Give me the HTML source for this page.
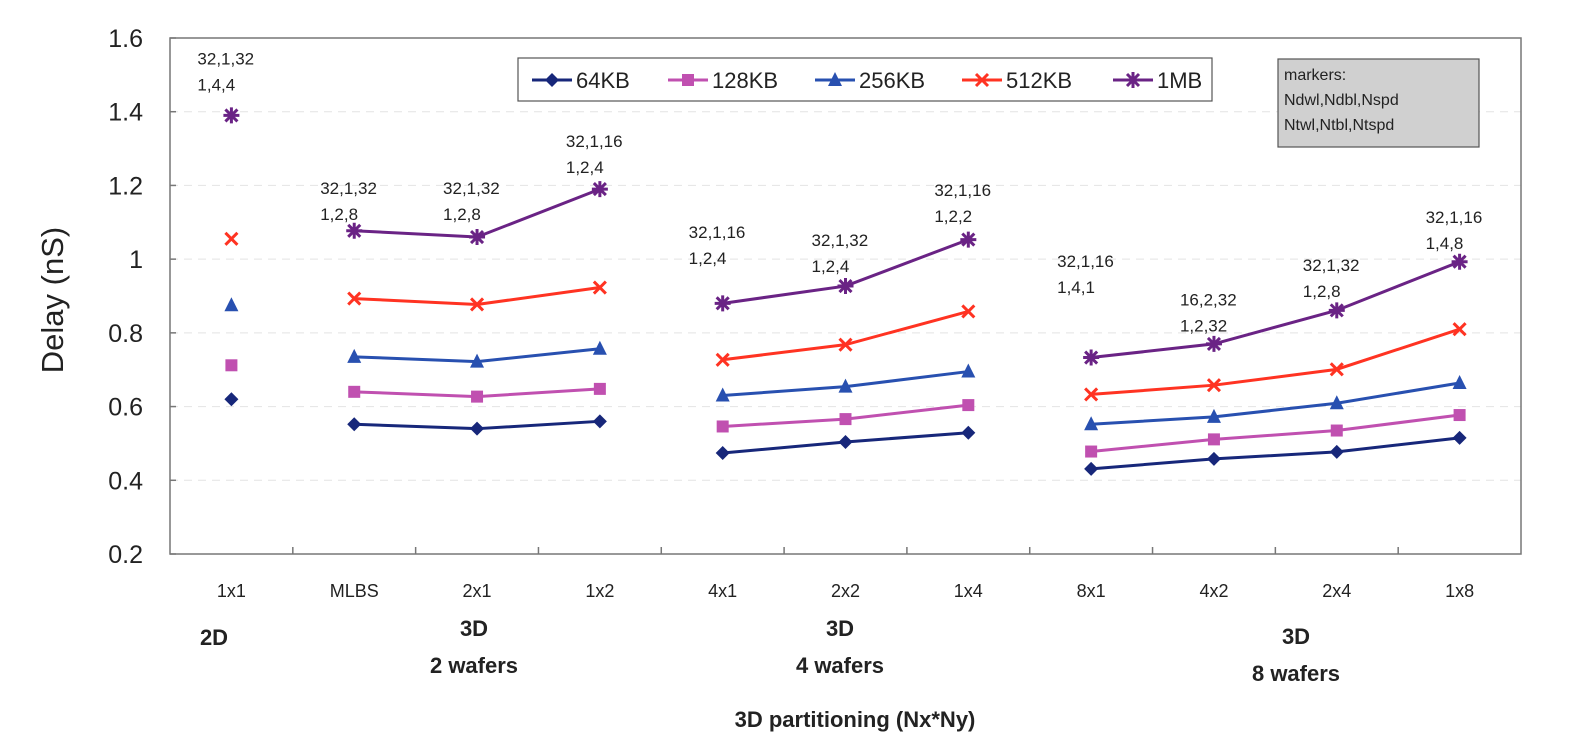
<!DOCTYPE html>
<html><head><meta charset="utf-8"><style>
html,body{margin:0;padding:0;background:#fff;}
svg{display:block;font-family:"Liberation Sans",Arial,sans-serif;}
</style></head><body>
<svg id="chart" width="1577" height="748"></svg>
<script>
const categories=["1x1","MLBS","2x1","1x2","4x1","2x2","1x4","8x1","4x2","2x4","1x8"];
const groups=[[0],[1,2,3],[4,5,6],[7,8,9,10]];
const s64=[0.62,0.552,0.54,0.56,0.474,0.504,0.529,0.431,0.458,0.477,0.515];
const s128=[0.712,0.64,0.627,0.648,0.546,0.566,0.604,0.478,0.511,0.535,0.577];
const s256=[0.875,0.735,0.722,0.757,0.63,0.654,0.695,0.552,0.572,0.609,0.664];
const s512=[1.055,0.893,0.877,0.923,0.727,0.768,0.858,0.633,0.658,0.701,0.81];
const s1mb=[1.39,1.077,1.06,1.19,0.88,0.927,1.053,0.733,0.77,0.861,0.993];
const yTicks=[0.2,0.4,0.6,0.8,1,1.2,1.4,1.6];
const annoLine1=["32,1,32","32,1,32","32,1,32","32,1,16","32,1,16","32,1,32","32,1,16","32,1,16","16,2,32","32,1,32","32,1,16"];
const annoLine2=["1,4,4","1,2,8","1,2,8","1,2,4","1,2,4","1,2,4","1,2,2","1,4,1","1,2,32","1,2,8","1,4,8"];
const annoLevel=[1.544,1.193,1.193,1.321,1.073,1.052,1.188,0.995,0.891,0.984,1.114];

const NS="http://www.w3.org/2000/svg";
const svg=document.getElementById('chart');
const L=170,R=1521,T=38,B=554,ymin=0.2,ymax=1.6;
const step=(R-L)/categories.length;
const X=i=>L+step*(i+0.5);
const Y=v=>B-(v-ymin)/(ymax-ymin)*(B-T);
function el(tag,attrs,parent){const e=document.createElementNS(NS,tag);for(const k in attrs)e.setAttribute(k,attrs[k]);(parent||svg).appendChild(e);return e;}
function txt(s,attrs,parent){const e=el('text',attrs,parent);e.textContent=s;return e;}

// gridlines
yTicks.forEach(v=>{
  if(v>ymin&&v<ymax){const g=el('line',{x1:L,x2:R,y1:Y(v),y2:Y(v),stroke:'#e4e4e4','stroke-dasharray':'8,6'});
  
  }
  const t=txt(String(v),{x:143,y:Y(v)+9,'text-anchor':'end','font-size':25,fill:'#222'});
  
  
  const tk=el('line',{x1:L,x2:L+6,y1:Y(v),y2:Y(v),stroke:'#777','stroke-width':1.5});
  
  
});
const frame=el('rect',{x:L,y:T,width:R-L,height:B-T,fill:'none',stroke:'#777','stroke-width':1.5});


for(let i=1;i<categories.length;i++){
  const tk=el('line',{x1:L+step*i,x2:L+step*i,y1:B,y2:B-7,stroke:'#777','stroke-width':1.5});
  
  
}
categories.forEach((c,i)=>{
  const t=txt(c,{x:X(i),y:597,'text-anchor':'middle','font-size':18,fill:'#222'});
  
  
});

const series=[
 {name:'64KB',data:s64,color:'#17277a',m:'diamond'},
 {name:'128KB',data:s128,color:'#c050b0',m:'square'},
 {name:'256KB',data:s256,color:'#2850b0',m:'triangle'},
 {name:'512KB',data:s512,color:'#ff3322',m:'x'},
 {name:'1MB',data:s1mb,color:'#6a2385',m:'star'}];
function marker(type,x,y,c,g){
  if(type==='diamond')return el('polygon',{points:`${x},${y-7} ${x+7},${y} ${x},${y+7} ${x-7},${y}`,fill:c},g);
  if(type==='square')return el('rect',{x:x-6,y:y-6,width:12,height:12,fill:c},g);
  if(type==='triangle')return el('polygon',{points:`${x},${y-8} ${x+7},${y+6} ${x-7},${y+6}`,fill:c},g);
  if(type==='x')return el('path',{d:`M${x-6},${y-6}L${x+6},${y+6}M${x-6},${y+6}L${x+6},${y-6}`,stroke:c,'stroke-width':3},g);
  return el('path',{d:`M${x-6},${y-6}L${x+6},${y+6}M${x-6},${y+6}L${x+6},${y-6}M${x},${y-8}L${x},${y+8}M${x-8},${y}L${x+8},${y}`,stroke:c,'stroke-width':3},g);
}
series.forEach(s=>{
  const g=el('g',{});
  
  
  groups.forEach(gr=>{
    if(gr.length>1){
      const ln=el('polyline',{points:gr.map(i=>X(i)+','+Y(s.data[i])).join(' '),fill:'none',stroke:s.color,'stroke-width':3},g);
      
      
    }
  });
  s.data.forEach((v,i)=>{
    const m=marker(s.m,X(i),Y(v),s.color,g);
    
    
  });
});
// annotations
categories.forEach((c,i)=>{
  const y=Y(annoLevel[i]);
  const a=txt(annoLine1[i],{x:X(i)-34,y:y+6,'font-size':17,fill:'#222'});
  
  
  const b=txt(annoLine2[i],{x:X(i)-34,y:y+32,'font-size':17,fill:'#222'});
  
  
});
// legend
const lg=el('g',{});


el('rect',{x:518,y:58,width:694,height:43,fill:'#fff',stroke:'#555','stroke-width':1.2},lg);
const lx=[532,668,815,962,1113];
series.forEach((s,k)=>{
  const e=el('g',{},lg);
  
  
  el('line',{x1:lx[k],x2:lx[k]+40,y1:80,y2:80,stroke:s.color,'stroke-width':3},e);
  marker(s.m,lx[k]+20,80,s.color,e);
  txt(s.name,{x:lx[k]+44,y:88,'font-size':22,fill:'#222'},e);
});
// marker note box
const nb=el('g',{});


el('rect',{x:1278,y:59,width:201,height:88,fill:'#d0d0d0',stroke:'#555','stroke-width':1.2},nb);
txt('markers:',{x:1284,y:80,'font-size':16,fill:'#222'},nb);
txt('Ndwl,Ndbl,Nspd',{x:1284,y:105,'font-size':16,fill:'#222'},nb);
txt('Ntwl,Ntbl,Ntspd',{x:1284,y:130,'font-size':16,fill:'#222'},nb);
// group labels
function gl(s,x,y,name){const t=txt(s,{x:x,y:y,'text-anchor':'middle','font-size':22,'font-weight':'bold',fill:'#222'});}
gl('2D',214,645,'group-label-2d');
gl('3D',474,636,'group-label-3d');gl('2 wafers',474,673,'group-label-2-wafers');
gl('3D',840,636,'group-label-3d');gl('4 wafers',840,673,'group-label-4-wafers');
gl('3D',1296,644,'group-label-3d');gl('8 wafers',1296,681,'group-label-8-wafers');
const xt=txt('3D partitioning (Nx*Ny)',{x:855,y:727,'text-anchor':'middle','font-size':22,'font-weight':'bold',fill:'#222'});


const yt=txt('Delay (nS)',{x:0,y:0,'text-anchor':'middle','font-size':31,fill:'#222',transform:'translate(63,300) rotate(-90)'});


</script>
</body></html>
